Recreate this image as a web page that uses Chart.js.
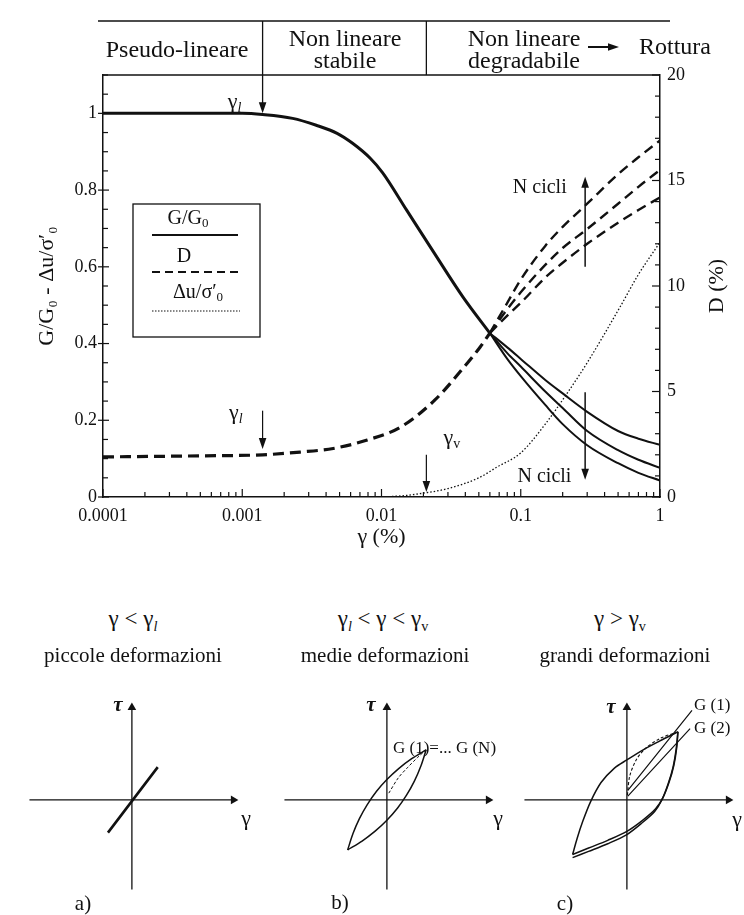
<!DOCTYPE html>
<html>
<head>
<meta charset="utf-8">
<script src="https://cdn.jsdelivr.net/npm/chart.js@4.4.1/dist/chart.umd.min.js"></script>
<style>
  body { margin: 0; background: #fff; }
  #wrap { position: relative; width: 744px; height: 915px; font-family: 'Liberation Serif', 'Times New Roman', serif; color: #111; }
  canvas { position: absolute; }
  .t { position: absolute; transform: translate(-50%, -50%); white-space: nowrap; font-size: 21px; }
  .l { position: absolute; transform: translateY(-50%); white-space: nowrap; font-size: 17px; }
  sub { font-size: 62%; vertical-align: -0.35em; line-height: 0; }
  .it { font-style: italic; }
</style>
</head>
<body>
<div id="wrap">
  <canvas id="main" width="744" height="560" style="left:0;top:0"></canvas>
  <canvas id="pa" width="235" height="270" style="left:12px;top:636px"></canvas>
  <canvas id="pb" width="235" height="270" style="left:267px;top:636px"></canvas>
  <canvas id="pc" width="235" height="270" style="left:507px;top:636px"></canvas>

  <div class="t" style="left:133px;top:619px;font-size:23px">γ &lt; γ<sub class="it">l</sub></div>
  <div class="t" style="left:133px;top:655px">piccole deformazioni</div>
  <div class="t" style="left:383px;top:619px;font-size:23px">γ<sub class="it">l</sub> &lt; γ &lt; γ<sub>v</sub></div>
  <div class="t" style="left:385px;top:655px">medie deformazioni</div>
  <div class="t" style="left:620px;top:619px;font-size:23px">γ &gt; γ<sub>v</sub></div>
  <div class="t" style="left:625px;top:655px">grandi deformazioni</div>

  <div class="t it" style="left:118px;top:704px;font-size:21px;font-weight:bold">τ</div>
  <div class="t it" style="left:371px;top:704px;font-size:21px;font-weight:bold">τ</div>
  <div class="t it" style="left:611px;top:706px;font-size:21px;font-weight:bold">τ</div>
  <div class="t" style="left:246px;top:818px;font-size:22px">γ</div>
  <div class="t" style="left:498px;top:818px;font-size:22px">γ</div>
  <div class="t" style="left:737px;top:819px;font-size:22px">γ</div>
  <div class="t" style="left:83px;top:903px">a)</div>
  <div class="t" style="left:340px;top:902px">b)</div>
  <div class="t" style="left:565px;top:903px">c)</div>
  <div class="l" style="left:393px;top:748px">G (1)=... G (N)</div>
  <div class="l" style="left:694px;top:705px">G (1)</div>
  <div class="l" style="left:694px;top:728px">G (2)</div>
</div>

<script>
// ---- main chart data ----
const decades = [0.0001, 0.001, 0.01, 0.1, 1];
const leftTicks = [0, 0.2, 0.4, 0.6, 0.8, 1];
const rightTicks = [0, 5, 10, 15, 20];

const gammaL = 0.0014;
const gammaV = 0.021;

// G/G0, common part
const gX = [0.0001, 0.0005, 0.001, 0.0014, 0.0023, 0.0034, 0.0048, 0.0062, 0.0083, 0.0102, 0.0152, 0.024, 0.0385, 0.06];
const gY = [1.0, 1.0, 1.0, 0.997, 0.987, 0.969, 0.948, 0.922, 0.883, 0.845, 0.747, 0.635, 0.521, 0.427];
// G/G0 after N cycles
const gNX = [0.06, 0.08, 0.1, 0.15, 0.2, 0.3, 0.5, 0.7, 1];
const gN1 = [0.427, 0.39, 0.36, 0.305, 0.27, 0.222, 0.172, 0.152, 0.136];
const gN2 = [0.427, 0.375, 0.34, 0.275, 0.232, 0.172, 0.122, 0.097, 0.076];
const gN3 = [0.427, 0.36, 0.315, 0.24, 0.19, 0.135, 0.088, 0.063, 0.043];

// D (%), common part
const dX = [0.0001, 0.0005, 0.0014, 0.0026, 0.0045, 0.0079, 0.0136, 0.0242, 0.0385, 0.051, 0.06];
const dY = [1.9, 1.95, 2.0, 2.13, 2.3, 2.7, 3.3, 4.6, 6.1, 7.1, 7.77];
// D after N cycles
const dNX = [0.06, 0.08, 0.1, 0.15, 0.2, 0.3, 0.5, 0.7, 1];
const dN1 = [7.77, 9.2, 10.3, 11.9, 12.8, 13.9, 15.3, 16.1, 16.9];
const dN2 = [7.77, 8.9, 9.7, 11.0, 11.8, 12.7, 13.9, 14.7, 15.5];
const dN3 = [7.77, 8.6, 9.2, 10.4, 11.1, 12.0, 13.0, 13.6, 14.2];

// pore pressure du/s'0
const uX = [0.01, 0.015, 0.02, 0.03, 0.05, 0.0675, 0.1, 0.15, 0.215, 0.3, 0.516, 0.7, 1];
const uY = [0, 0.004, 0.01, 0.022, 0.05, 0.078, 0.115, 0.19, 0.27, 0.35, 0.495, 0.58, 0.664];

// ---- small loop panels (arbitrary units) ----
const axisXs = [-1.07, 1.06];
const axisYs = [-0.93, 0.96];

const aX = [-0.25, 0.27];
const aY = [-0.34, 0.34];

const bUpX = [-0.41, -0.355, -0.287, -0.205, -0.11, 0, 0.123, 0.259, 0.41];
const bUpY = [-0.52, -0.352, -0.195, -0.049, 0.087, 0.211, 0.325, 0.428, 0.52];
const bDnX = [0.41, 0.355, 0.287, 0.205, 0.11, 0, -0.123, -0.259, -0.41];
const bDnY = [0.52, 0.352, 0.195, 0.049, -0.087, -0.211, -0.325, -0.428, -0.52];
const bBbX = [0.02, 0.12, 0.22, 0.32, 0.41];
const bBbY = [0.07, 0.23, 0.34, 0.44, 0.52];

const cUpX = [-0.567, -0.52, -0.46, -0.38, -0.27, -0.13, 0, 0.17, 0.34, 0.533];
const cUpY = [-0.567, -0.4, -0.22, -0.02, 0.18, 0.33, 0.415, 0.52, 0.61, 0.707];
const cDn1X = [0.533, 0.52, 0.49, 0.443, 0.377, 0.3, 0.167, 0, -0.2, -0.4, -0.567];
const cDn1Y = [0.707, 0.54, 0.357, 0.19, 0.023, -0.093, -0.21, -0.327, -0.42, -0.5, -0.567];
const cDn2X = [0.533, 0.515, 0.482, 0.432, 0.365, 0.29, 0.157, 0, -0.2, -0.4, -0.567];
const cDn2Y = [0.707, 0.53, 0.34, 0.17, 0.0, -0.12, -0.24, -0.36, -0.455, -0.535, -0.6];
const cBbX = [0.005, 0.03, 0.1, 0.2, 0.35, 0.533];
const cBbY = [0.05, 0.25, 0.42, 0.54, 0.64, 0.707];
const cS1X = [0.01, 0.68];
const cS1Y = [0.1, 0.93];
const cS2X = [0.01, 0.66];
const cS2Y = [0.04, 0.74];

// ---- helpers ----
const ink = '#111';
const serif = "'Liberation Serif', 'Times New Roman', serif";
Chart.defaults.font.family = serif;
Chart.defaults.color = ink;

const pts = (xs, ys) => xs.map((x, i) => ({ x: x, y: ys[i] }));

function curve(xs, ys, w, dash, axis) {
  return {
    data: pts(xs, ys), showLine: true, borderColor: ink, borderWidth: w,
    borderDash: dash || [], pointRadius: 0, yAxisID: axis || 'y',
    cubicInterpolationMode: 'monotone'
  };
}

function seg(ctx, x1, y1, x2, y2, w, dash) {
  ctx.beginPath();
  ctx.lineWidth = w;
  ctx.setLineDash(dash || []);
  ctx.moveTo(x1, y1);
  ctx.lineTo(x2, y2);
  ctx.stroke();
  ctx.setLineDash([]);
}

function arrow(ctx, x1, y1, x2, y2, w) {
  const a = Math.atan2(y2 - y1, x2 - x1), L = 11, H = 3.8;
  const c = Math.cos(a), s = Math.sin(a);
  seg(ctx, x1, y1, x2 - c * L * 0.7, y2 - s * L * 0.7, w);
  ctx.beginPath();
  ctx.moveTo(x2, y2);
  ctx.lineTo(x2 - c * L - s * H, y2 - s * L + c * H);
  ctx.lineTo(x2 - c * L + s * H, y2 - s * L - c * H);
  ctx.closePath();
  ctx.fill();
}

// parts: [text, size, italic, dy]
function rich(ctx, parts, cx, cy) {
  let total = 0;
  parts.forEach(p => {
    ctx.font = (p[2] ? 'italic ' : '') + p[1] + 'px ' + serif;
    total += ctx.measureText(p[0]).width;
  });
  let x = cx - total / 2;
  ctx.textAlign = 'left';
  ctx.textBaseline = 'middle';
  parts.forEach(p => {
    ctx.font = (p[2] ? 'italic ' : '') + p[1] + 'px ' + serif;
    ctx.fillText(p[0], x, cy + (p[3] || 0));
    x += ctx.measureText(p[0]).width;
  });
}

const decor = {
  id: 'decor',
  afterDraw(chart) {
    const { ctx, chartArea: a, scales: { x, y, y2 } } = chart;
    ctx.save();
    ctx.strokeStyle = ink;
    ctx.fillStyle = ink;

    // closing top line of the frame
    seg(ctx, a.left, a.top, a.right, a.top, 1.5);

    // ticks drawn inside the frame
    decades.forEach(d => {
      for (let m = 1; m <= 9; m++) {
        const v = d * m;
        if (v > 1.0000001) break;
        const px = x.getPixelForValue(v);
        seg(ctx, px, a.bottom, px, a.bottom - (m === 1 ? 8 : 5), 1.2);
      }
    });
    for (let i = 0; i <= 22; i++) {
      const v = i * 0.05, py = y.getPixelForValue(v);
      if (i % 4 === 0) seg(ctx, a.left - 5, py, a.left + 6, py, 1.2);
      else seg(ctx, a.left, py, a.left + 5, py, 1.2);
    }
    for (let i = 0; i <= 20; i++) {
      const py = y2.getPixelForValue(i);
      seg(ctx, a.right, py, a.right - (i % 5 === 0 ? 8 : 5), py, 1.2);
    }

    // band of behaviour above the plot
    const bandY = 21;
    const xl = x.getPixelForValue(gammaL), xv = x.getPixelForValue(gammaV);
    seg(ctx, a.left - 5, bandY, a.right + 10, bandY, 1.5);
    seg(ctx, xv, bandY, xv, a.top, 1.3);
    arrow(ctx, xl, bandY, xl, y.getPixelForValue(1.0), 1.3);
    rich(ctx, [['Pseudo-lineare', 24]], 177, 51);
    rich(ctx, [['Non lineare', 24]], 345, 40);
    rich(ctx, [['stabile', 24]], 345, 62);
    rich(ctx, [['Non lineare', 24]], 524, 40);
    rich(ctx, [['degradabile', 24]], 524, 62);
    arrow(ctx, 588, 47, 619, 47, 2);
    rich(ctx, [['Rottura', 24]], 675, 48);

    // right axis title, read bottom to top
    ctx.save();
    ctx.translate(717, (a.top + a.bottom) / 2);
    ctx.rotate(-Math.PI / 2);
    rich(ctx, [['D (%)', 22]], 0, 0);
    ctx.restore();

    // threshold strains
    rich(ctx, [['γ', 22], ['l', 14, true, 6]], x.getPixelForValue(0.00088), y.getPixelForValue(1.03));
    rich(ctx, [['γ', 22], ['l', 14, true, 6]], x.getPixelForValue(0.0009), y.getPixelForValue(0.219));
    arrow(ctx, xl, y.getPixelForValue(0.225), xl, y.getPixelForValue(0.125), 1.2);
    rich(ctx, [['γ', 22], ['v', 14, false, 6]], x.getPixelForValue(0.032), y.getPixelForValue(0.152));
    arrow(ctx, xv, y.getPixelForValue(0.11), xv, y.getPixelForValue(0.013), 1.2);

    // number of cycles
    const xn = x.getPixelForValue(0.29);
    rich(ctx, [['N cicli', 20]], x.getPixelForValue(0.137), y.getPixelForValue(0.807));
    arrow(ctx, xn, y.getPixelForValue(0.6), xn, y.getPixelForValue(0.835), 1.5);
    rich(ctx, [['N cicli', 20]], x.getPixelForValue(0.148), y.getPixelForValue(0.052));
    arrow(ctx, xn, y.getPixelForValue(0.273), xn, y.getPixelForValue(0.045), 1.5);

    // legend box
    ctx.lineWidth = 1.3;
    ctx.strokeRect(133, 204, 127, 133);
    rich(ctx, [['G/G', 20], ['0', 13, false, 5]], 188, 219);
    seg(ctx, 152, 235, 238, 235, 2);
    rich(ctx, [['D', 20]], 184, 257);
    seg(ctx, 152, 272, 238, 272, 2, [8, 5]);
    rich(ctx, [['Δu/σ′', 20], ['0', 13, false, 5]], 198, 293);
    seg(ctx, 152, 311, 240, 311, 1.2, [1.5, 1.5]);

    ctx.restore();
  }
};

new Chart(document.getElementById('main'), {
  type: 'scatter',
  data: {
    datasets: [
      curve(uX, uY, 1.3, [1.5, 2]),
      curve(dX, dY, 3.2, [11, 6], 'y2'),
      curve(dNX, dN1, 2.4, [10, 6], 'y2'),
      curve(dNX, dN2, 2.4, [10, 6], 'y2'),
      curve(dNX, dN3, 2.4, [10, 6], 'y2'),
      curve(gX, gY, 3),
      curve(gNX, gN1, 2),
      curve(gNX, gN2, 2),
      curve(gNX, gN3, 2)
    ]
  },
  options: {
    responsive: false,
    animation: false,
    layout: { padding: { top: 75, left: 0, right: 0, bottom: 0 } },
    plugins: { legend: { display: false }, tooltip: { enabled: false } },
    scales: {
      x: {
        type: 'logarithmic', min: 0.0001, max: 1, position: 'bottom',
        afterBuildTicks: s => { s.ticks = decades.map(v => ({ value: v })); },
        afterFit: s => { s.height = 63; },
        ticks: { callback: v => String(v), font: { size: 18 }, padding: 8, maxRotation: 0, autoSkip: false },
        grid: { display: false, drawTicks: false },
        border: { color: ink, width: 1.5 },
        title: { display: true, text: 'γ (%)', font: { size: 22 }, padding: { bottom: 10 } }
      },
      y: {
        min: 0, max: 1.1, position: 'left',
        afterBuildTicks: s => { s.ticks = leftTicks.map(v => ({ value: v })); },
        afterFit: s => { s.width = 103; },
        ticks: { callback: v => String(v), font: { size: 18 }, padding: 6 },
        grid: { display: false, drawTicks: false },
        border: { color: ink, width: 1.5 },
        title: { display: true, text: 'G/G₀ - Δu/σ′₀', font: { size: 22 }, padding: { top: 34 } }
      },
      y2: {
        min: 0, max: 20, position: 'right',
        afterBuildTicks: s => { s.ticks = rightTicks.map(v => ({ value: v })); },
        afterFit: s => { s.width = 84; },
        ticks: { font: { size: 18 }, padding: 7 },
        grid: { display: false, drawTicks: false },
        border: { color: ink, width: 1.5 }
      }
    }
  },
  plugins: [decor]
});

// ---- loop panels ----
function axisSets() {
  return [
    {
      data: pts(axisXs, [0, 0]), showLine: true, borderColor: ink, borderWidth: 1.3,
      pointRadius: [0, 5], pointStyle: 'triangle', pointRotation: 90,
      pointBackgroundColor: ink, pointBorderColor: ink, pointBorderWidth: 0
    },
    {
      data: pts([0, 0], axisYs), showLine: true, borderColor: ink, borderWidth: 1.3,
      pointRadius: [0, 5], pointStyle: 'triangle', pointRotation: 0,
      pointBackgroundColor: ink, pointBorderColor: ink, pointBorderWidth: 0
    }
  ];
}

function loop(xs, ys, w, dash) {
  return {
    data: pts(xs, ys), showLine: true, borderColor: ink, borderWidth: w,
    borderDash: dash || [], pointRadius: 0, tension: 0.3
  };
}

function panel(id, sets) {
  new Chart(document.getElementById(id), {
    type: 'scatter',
    data: { datasets: axisSets().concat(sets) },
    options: {
      responsive: false,
      animation: false,
      layout: { padding: 0 },
      plugins: { legend: { display: false }, tooltip: { enabled: false } },
      scales: {
        x: { type: 'linear', min: -1.2, max: 1.15, display: false },
        y: { type: 'linear', min: -1.05, max: 1.65, display: false }
      }
    }
  });
}

panel('pa', [loop(aX, aY, 2.6)]);
panel('pb', [
  loop(bUpX, bUpY, 1.5),
  loop(bDnX, bDnY, 1.5),
  loop(bBbX, bBbY, 1, [3, 2])
]);
panel('pc', [
  loop(cUpX, cUpY, 1.5),
  loop(cDn1X, cDn1Y, 1.5),
  loop(cDn2X, cDn2Y, 1.5),
  loop(cBbX, cBbY, 1.1, [3, 2]),
  loop(cS1X, cS1Y, 1.2),
  loop(cS2X, cS2Y, 1.2)
]);
</script>
</body>
</html>
